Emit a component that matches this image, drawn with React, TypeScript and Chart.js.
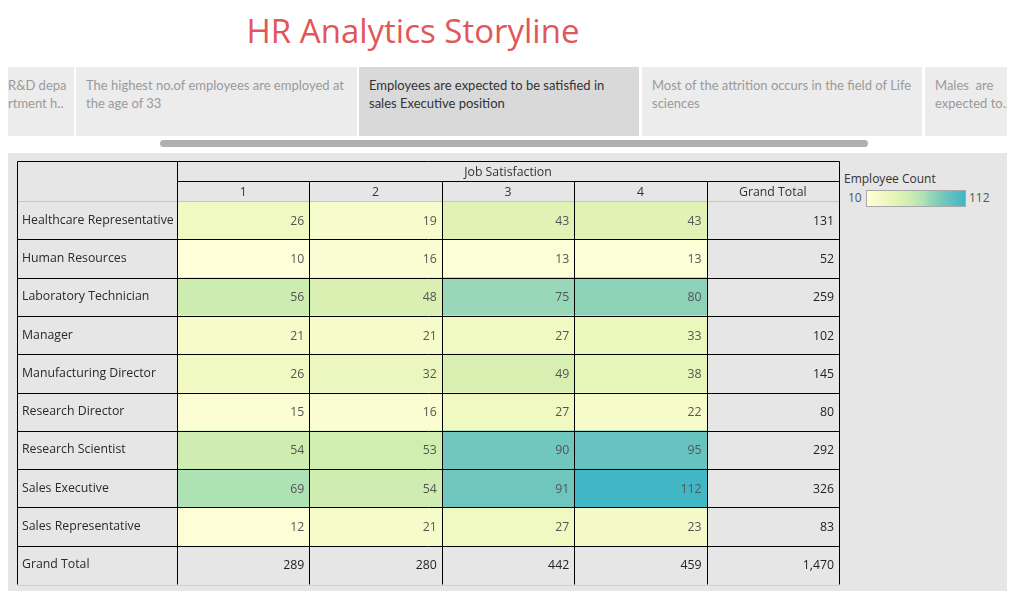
import React, { useEffect, useRef } from "react";
import { Chart, registerables } from "chart.js";

Chart.register(...registerables);

// ---- data ----
const roles = [
  "Healthcare Representative",
  "Human Resources",
  "Laboratory Technician",
  "Manager",
  "Manufacturing Director",
  "Research Director",
  "Research Scientist",
  "Sales Executive",
  "Sales Representative",
];
const satisfactionLevels = ["1", "2", "3", "4"];
const js1 = [26, 10, 56, 21, 26, 15, 54, 69, 12];
const js2 = [19, 16, 48, 21, 32, 16, 53, 54, 21];
const js3 = [43, 13, 75, 27, 49, 27, 90, 91, 27];
const js4 = [43, 13, 80, 33, 38, 22, 95, 112, 23];
const legendMin = 10;
const legendMax = 112;
const titleText = "HR Analytics Storyline";
const storyPoints = [
  ["R&D depa", "rtment h.."],
  ["The highest no.of employees are employed at", "the age of 33"],
  ["Employees are expected to be satisfied in", "sales Executive position"],
  ["Most of the attrition occurs in the field of Life", "sciences"],
  ["Males  are", "expected to.."],
];

// ---- color ramp ----
const RAMP: [number, string][] = [
  [0, "#ffffd9"],
  [0.16, "#f1f9c3"],
  [0.32, "#e1f3b4"],
  [0.45, "#cdecb0"],
  [0.58, "#aee1b4"],
  [0.64, "#97d7b7"],
  [0.78, "#72c7bd"],
  [1, "#41b6c4"],
];
function hex(h: string) {
  return [1, 3, 5].map((i) => parseInt(h.slice(i, i + 2), 16));
}
function colorFor(v: number) {
  let t = (v - legendMin) / (legendMax - legendMin);
  t = Math.max(0, Math.min(1, t));
  for (let i = 1; i < RAMP.length; i++) {
    if (t <= RAMP[i][0]) {
      const [t0, c0] = RAMP[i - 1];
      const [t1, c1] = RAMP[i];
      const f = (t - t0) / (t1 - t0);
      const a = hex(c0), b = hex(c1);
      const m = a.map((x, k) => Math.round(x + (b[k] - x) * f));
      return `rgb(${m[0]},${m[1]},${m[2]})`;
    }
  }
  return RAMP[RAMP.length - 1][1];
}

const FONT = "'Open Sans', 'Noto Sans', sans-serif";
const TAB_FONT = "Lato, 'Open Sans', sans-serif";
const FS = 12.3;

export default function App() {
  const ref = useRef<HTMLCanvasElement | null>(null);

  useEffect(() => {
    const cols = [js1, js2, js3, js4];
    const rowTotals = roles.map((_, r) => cols.reduce((s, c) => s + c[r], 0));
    const colTotals = cols.map((c) => c.reduce((s, v) => s + v, 0));
    const grand = rowTotals.reduce((s, v) => s + v, 0);
    const labels = [...roles, "Grand Total"];
    const colLabels = [...satisfactionLevels, "Grand Total"];
    const vals: number[][] = [
      ...cols.map((c, ci) => [...c, colTotals[ci]]),
      [...rowTotals, grand],
    ];

    const datasets = colLabels.map((cl, ci) => ({
      label: cl,
      data: labels.map(() => [ci, ci + 1]),
      backgroundColor: labels.map((_, ri) =>
        ci < 4 && ri < roles.length ? colorFor(vals[ci][ri]) : "rgba(0,0,0,0)"
      ),
      borderWidth: 0,
      barPercentage: 1,
      categoryPercentage: 1,
      grouped: false,
    }));

    const tablePlugin = {
      id: "tablePlugin",
      afterDatasetsDraw(chart: any) {
        const ctx = chart.ctx;
        const { x, y } = chart.scales;
        const ca = chart.chartArea;
        const nRows = labels.length;
        const rowH = (ca.bottom - ca.top) / nRows;
        const px = (v: number) => Math.round(x.getPixelForValue(v)) + 0.5;
        const rowTop = (i: number) => y.getPixelForValue(i) - rowH / 2;
        ctx.save();
        ctx.font = `${FS}px ${FONT}`;
        ctx.textAlign = "right";
        ctx.textBaseline = "middle";
        for (let ci = 0; ci < 5; ci++) {
          for (let ri = 0; ri < nRows; ri++) {
            const isTotal = ci === 4 || ri === nRows - 1;
            ctx.fillStyle = isTotal ? "#222" : "#555";
            ctx.fillText(
              vals[ci][ri].toLocaleString("en-US"),
              x.getPixelForValue(ci + 1) - 5,
              y.getPixelForValue(ri) + 1
            );
          }
        }
        const headTop = 0.5;
        const headMid = Math.round((headTop + ca.top) / 2) + 0.5;
        ctx.textAlign = "center";
        ctx.fillStyle = "#333";
        ctx.fillText(
          "Job Satisfaction",
          (x.getPixelForValue(0) + x.getPixelForValue(5)) / 2,
          (headTop + headMid) / 2 + 1
        );
        for (let ci = 0; ci < 5; ci++) {
          ctx.fillText(
            colLabels[ci],
            (x.getPixelForValue(ci) + x.getPixelForValue(ci + 1)) / 2,
            (headMid + ca.top) / 2 + 1
          );
        }
        const left = 0.5;
        const right = px(5);
        const bottom = Math.round(ca.bottom) + 0.5;
        ctx.lineWidth = 1;
        const line = (x1: number, y1: number, x2: number, y2: number, c = "#000") => {
          ctx.strokeStyle = c;
          ctx.beginPath();
          ctx.moveTo(x1, y1);
          ctx.lineTo(x2, y2);
          ctx.stroke();
        };
        for (let ri = 1; ri < nRows; ri++) {
          const yy = Math.round(rowTop(ri)) + 0.5;
          line(left, yy, right, yy);
        }
        line(left, Math.round(ca.top) + 0.5, right, Math.round(ca.top) + 0.5, "#c6c6c6");
        line(left, headTop, right, headTop);
        line(px(0), headMid, right, headMid);
        line(left, headTop, left, bottom);
        line(px(0), headTop, px(0), bottom);
        line(right, headTop, right, bottom);
        for (let ci = 1; ci < 5; ci++) line(px(ci), headMid, px(ci), bottom);
        line(left, bottom + 1, right, bottom + 1, "#cfcfcf");
        ctx.restore();
      },
    };

    const chart = new Chart(ref.current as HTMLCanvasElement, {
      type: "bar",
      data: { labels, datasets: datasets as any },
      options: {
        indexAxis: "y",
        animation: false,
        responsive: false,
        layout: { padding: { top: 40, left: 5, right: 2, bottom: 2 } },
        plugins: { legend: { display: false }, tooltip: { enabled: false } },
        scales: {
          x: { type: "linear", min: 0, max: 5, display: false },
          y: {
            type: "category",
            afterFit: (s: any) => {
              s.width = 155;
              s.paddingTop = 0;
              s.paddingBottom = 0;
            },
            grid: { display: false },
            border: { display: false },
            ticks: {
              crossAlign: "far",
              color: "#2a2a2a",
              font: { family: FONT, size: FS },
              autoSkip: false,
            },
          },
        },
      },
      plugins: [tablePlugin],
    });
    return () => chart.destroy();
  }, []);

  const tabs = [
    { l: 8, w: 66, pad: 0 },
    { l: 76, w: 281, pad: 10 },
    { l: 359, w: 280, pad: 10, sel: true },
    { l: 642, w: 280, pad: 10 },
    { l: 925, w: 83, pad: 10 },
  ];

  const gradient = `linear-gradient(to right, ${RAMP.map(
    ([t, c]) => `${c} ${t * 100}%`
  ).join(", ")})`;

  return (
    <div style={{ position: "relative", width: 1015, height: 599, fontFamily: FONT, margin: -8 }}>
      <div
        style={{
          position: "absolute",
          left: 0,
          width: 826,
          top: 9,
          textAlign: "center",
          fontSize: 33,
          lineHeight: "44px",
          color: "#e15759",
        }}
      >
        {titleText}
      </div>
      {tabs.map((t, i) => (
        <div
          key={i}
          style={{
            position: "absolute",
            left: t.l,
            top: 67,
            width: t.w,
            height: 69,
            background: t.sel ? "#d9d9d9" : "#ececec",
            color: t.sel ? "#333" : "#9a9a9a",
            fontFamily: TAB_FONT,
            fontSize: 13,
            lineHeight: "18px",
            boxSizing: "border-box",
            padding: `9px ${t.pad}px 0 ${t.pad}px`,
            overflow: "hidden",
            whiteSpace: "pre",
          }}
        >
          {storyPoints[i].join("\n")}
        </div>
      ))}
      <div
        style={{
          position: "absolute",
          left: 160,
          top: 140,
          width: 708,
          height: 7,
          borderRadius: 4,
          background: "#b0b0b0",
        }}
      />
      <div
        style={{
          position: "absolute",
          left: 8,
          top: 153,
          width: 1000,
          height: 439,
          background: "#e6e6e6",
        }}
      />
      <canvas
        ref={ref}
        width={824}
        height={425}
        style={{ position: "absolute", left: 17, top: 161 }}
      />
      <div
        style={{
          position: "absolute",
          left: 844,
          top: 170,
          fontSize: 12,
          lineHeight: "18px",
          color: "#333",
        }}
      >
        Employee Count
      </div>
      <div
        style={{
          position: "absolute",
          left: 848,
          top: 189,
          fontSize: 12,
          lineHeight: "18px",
          color: "#555",
        }}
      >
        {legendMin}
      </div>
      <div
        style={{
          position: "absolute",
          left: 866,
          top: 190,
          width: 98,
          height: 15,
          background: gradient,
          border: "1px solid #a8a8a8",
        }}
      />
      <div
        style={{
          position: "absolute",
          left: 969,
          top: 189,
          fontSize: 12,
          lineHeight: "18px",
          color: "#555",
        }}
      >
        {legendMax}
      </div>
    </div>
  );
}
